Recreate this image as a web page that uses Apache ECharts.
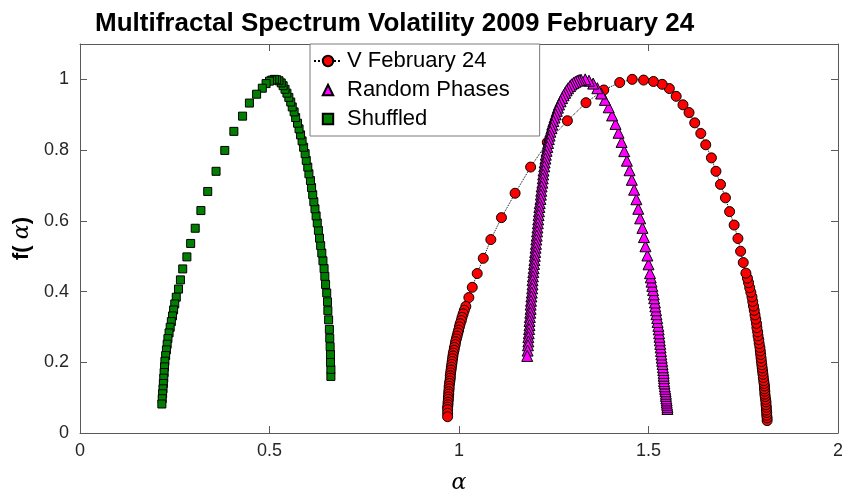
<!DOCTYPE html>
<html><head><meta charset="utf-8">
<script src="https://cdn.jsdelivr.net/npm/echarts@6/dist/echarts.min.js"></script>
<style>html,body{margin:0;padding:0;background:#fff}#c{width:842px;height:489px}</style>
</head><body><div id="c"></div>
<script>
const seriesNames = ['V February 24', 'Random Phases', 'Shuffled'];

const vAlpha = [1.813,1.813,1.812,1.812,1.811,1.811,1.810,1.810,1.809,1.808,1.807,1.807,1.806,1.806,1.805,1.804,1.803,1.802,1.801,1.800,1.799,1.798,1.797,1.796,1.795,1.794,1.792,1.791,1.789,1.788,1.786,1.785,1.783,1.781,1.779,1.777,1.775,1.773,1.770,1.767,1.764,1.761,1.757,
  1.750,1.743,1.736,1.726,1.714,1.703,1.690,1.678,1.666,1.651,1.638,1.622,1.607,1.591,1.573,1.555,1.536,1.513,1.487,1.457,1.424,1.382,1.335,1.286,1.233,1.189,1.148,1.112,1.084,1.064,1.048,1.035,1.026,1.018,
  1.014,1.011,1.008,1.006,1.003,1.001,0.999,0.997,0.995,0.993,0.991,0.990,0.988,0.987,0.985,0.984,0.983,0.982,0.981,0.980,0.979,0.978,0.977,0.977,0.976,0.975,0.974,0.974,0.973,0.973,0.972,0.972,0.971,0.971,0.970,0.970,0.970,0.970];
const vF = [0.035,0.043,0.050,0.058,0.065,0.073,0.080,0.088,0.095,0.103,0.110,0.118,0.125,0.133,0.140,0.148,0.157,0.166,0.175,0.184,0.193,0.202,0.212,0.222,0.232,0.242,0.253,0.264,0.275,0.286,0.298,0.310,0.322,0.334,0.347,0.359,0.372,0.385,0.398,0.411,0.425,0.438,0.452,
  0.482,0.514,0.550,0.588,0.626,0.665,0.703,0.740,0.778,0.815,0.847,0.877,0.906,0.928,0.952,0.974,0.986,0.994,0.998,1.000,0.991,0.970,0.934,0.883,0.822,0.752,0.678,0.609,0.547,0.494,0.451,0.412,0.383,0.358,
  0.347,0.337,0.327,0.318,0.309,0.300,0.291,0.283,0.274,0.266,0.258,0.250,0.242,0.234,0.226,0.218,0.210,0.202,0.194,0.186,0.178,0.170,0.162,0.155,0.147,0.140,0.132,0.125,0.117,0.110,0.102,0.095,0.087,0.080,0.073,0.066,0.056,0.046];

const rpAlpha = [1.550,1.550,1.549,1.548,1.548,1.547,1.546,1.546,1.545,1.544,1.543,1.542,1.541,1.541,1.540,1.540,1.539,1.538,1.537,1.536,1.535,1.534,1.533,1.532,1.531,1.530,1.529,1.528,1.527,1.526,1.524,1.523,1.521,1.520,1.518,1.517,1.515,1.514,1.512,1.510,1.508,1.506,1.504,
  1.500,1.497,1.492,1.488,1.484,1.478,1.473,1.468,1.462,1.456,1.450,1.443,1.436,1.429,1.421,1.413,1.404,1.395,1.385,1.375,1.365,1.354,1.343,1.333,
  1.322,1.317,1.312,1.307,1.302,1.297,1.293,1.288,1.284,1.280,1.276,1.272,1.268,1.264,1.261,1.258,1.255,1.252,1.249,1.246,1.244,1.241,1.239,1.237,1.235,1.233,1.231,1.229,1.228,1.226,
  1.225,1.223,1.222,1.221,1.220,1.218,1.217,1.216,1.215,1.213,1.212,1.211,1.210,1.209,1.208,1.207,1.206,1.205,1.204,1.203,1.202,1.201,1.200,1.199,1.198,1.197,1.196,1.195,1.194,1.194,
  1.193,1.192,1.191,1.190,1.189,1.189,1.188,1.187,1.186,1.186,1.185,1.184,1.183,1.183,1.182,1.181,1.180];
const rpF = [0.068,0.074,0.080,0.086,0.092,0.098,0.105,0.111,0.118,0.125,0.132,0.140,0.147,0.155,0.162,0.170,0.178,0.186,0.195,0.204,0.213,0.222,0.232,0.242,0.252,0.262,0.272,0.282,0.293,0.303,0.314,0.325,0.336,0.347,0.358,0.369,0.381,0.392,0.404,0.416,0.428,0.440,0.452,
  0.477,0.502,0.528,0.554,0.580,0.607,0.634,0.661,0.688,0.716,0.743,0.770,0.797,0.823,0.849,0.874,0.898,0.921,0.942,0.960,0.975,0.988,0.996,1.000,
  0.999,0.998,0.996,0.993,0.990,0.986,0.981,0.975,0.969,0.962,0.955,0.947,0.938,0.929,0.920,0.911,0.901,0.892,0.882,0.872,0.862,0.852,0.841,0.831,0.820,0.809,0.798,0.787,0.776,0.765,
  0.754,0.742,0.731,0.720,0.708,0.697,0.685,0.674,0.662,0.650,0.639,0.627,0.616,0.604,0.593,0.581,0.570,0.558,0.547,0.535,0.524,0.512,0.501,0.489,0.478,0.466,0.455,0.443,0.432,0.420,
  0.409,0.397,0.386,0.374,0.363,0.351,0.340,0.328,0.317,0.305,0.294,0.282,0.271,0.259,0.248,0.233,0.218];

const shAlpha = [0.662,0.662,0.661,0.661,0.660,0.659,0.658,0.656,0.654,0.653,0.651,0.648,0.646,0.644,0.641,0.638,0.635,0.632,0.629,0.626,0.623,0.620,0.617,0.614,0.611,0.608,0.604,0.601,0.597,0.594,0.590,0.586,0.582,0.578,0.574,0.569,0.565,0.560,0.556,0.551,0.546,0.541,0.536,0.531,0.525,0.519,0.513,
  0.506,0.500,0.491,0.481,0.466,0.447,0.429,0.406,0.382,0.359,0.337,0.319,0.304,0.292,0.282,0.271,0.265,0.260,0.254,0.250,0.247,0.244,0.241,0.238,0.235,0.232,0.230,0.228,0.226,0.224,0.223,0.222,0.221,0.220,0.219,0.218,0.217,0.216];
const shF = [0.160,0.180,0.200,0.222,0.244,0.268,0.293,0.320,0.346,0.371,0.396,0.420,0.443,0.465,0.487,0.509,0.530,0.551,0.573,0.594,0.614,0.634,0.654,0.674,0.694,0.714,0.733,0.752,0.771,0.790,0.808,0.826,0.843,0.860,0.876,0.892,0.908,0.922,0.936,0.949,0.961,0.972,0.982,0.990,0.996,0.999,1.000,
  0.998,0.995,0.988,0.975,0.958,0.933,0.896,0.853,0.799,0.740,0.683,0.629,0.579,0.536,0.498,0.464,0.433,0.407,0.384,0.365,0.348,0.331,0.315,0.299,0.283,0.267,0.251,0.235,0.219,0.203,0.187,0.171,0.155,0.140,0.125,0.111,0.097,0.082];

const xTicks = [0, 0.5, 1, 1.5, 2];
const yTicks = [0, 0.2, 0.4, 0.6, 0.8, 1];

function pairs(a, b) { return a.map((x, i) => [x, b[i]]); }

const font = '"Liberation Sans", Arial, Helvetica, sans-serif';
const serif = '"DejaVu Serif", "Liberation Serif", serif';
const axCol = '#5a5a5a';
const lblCol = '#262626';

const chart = echarts.init(document.getElementById('c'), null, { renderer: 'canvas' });

function xAx(pos, show) {
  return {
    type: 'value', min: xTicks[0], max: xTicks[xTicks.length - 1], interval: 0.5, position: pos,
    axisLine: { show: true, onZero: false, lineStyle: { color: axCol, width: 1 } },
    axisTick: { show: true, inside: true, length: 7, lineStyle: { color: axCol } },
    axisLabel: { show: show, fontSize: 18, color: lblCol, fontFamily: font, margin: 9 },
    splitLine: { show: false }
  };
}
function yAx(pos, show) {
  return {
    type: 'value', min: 0, max: 1.1, interval: 0.2, position: pos,
    axisLine: { show: true, onZero: false, lineStyle: { color: axCol, width: 1 } },
    axisTick: { show: true, inside: true, length: 7, lineStyle: { color: axCol } },
    axisLabel: { show: show, fontSize: 18, color: lblCol, fontFamily: font, margin: 11, showMaxLabel: false,
      formatter: v => (yTicks.some(t => Math.abs(t - v) < 1e-9) ? String(+v.toFixed(1)) : '') },
    splitLine: { show: false }
  };
}

const xa0 = xAx('bottom', true);
xa0.name = 'α'; xa0.nameLocation = 'middle'; xa0.nameGap = 39;
xa0.nameTextStyle = { fontFamily: serif, fontStyle: 'italic', fontSize: 22, color: '#000' };
const ya0 = yAx('left', true);
ya0.name = '{b|f( }{a|α}{b|)}'; ya0.nameLocation = 'middle'; ya0.nameGap = 43;
ya0.nameTextStyle = { rich: {
  b: { fontFamily: font, fontWeight: 'bold', fontSize: 22, color: '#000' },
  a: { fontFamily: serif, fontStyle: 'italic', fontSize: 22, color: '#000' } } };

const noLine = { color: '#000', width: 0, opacity: 0 };

const option = {
  animation: false,
  backgroundColor: '#fff',
  title: {
    text: 'Multifractal Spectrum Volatility 2009 February 24', left: 90, top: 6,
    textStyle: { fontFamily: font, fontWeight: 'bold', fontSize: 26, color: '#000' }
  },
  legend: {
    orient: 'vertical', left: 310, top: 44, padding: [6, 30, 6, 3], itemGap: 7,
    itemWidth: 28, itemHeight: 13,
    backgroundColor: '#fff', borderColor: '#7a7a7a', borderWidth: 1, borderRadius: 0,
    textStyle: { fontSize: 22, color: '#000', fontFamily: font },
    data: seriesNames
  },
  grid: { left: 80, right: 4, top: 44, bottom: 56, containLabel: false, outerBoundsMode: 'none' },
  xAxis: [xa0, xAx('top', false)],
  yAxis: [ya0, yAx('right', false)],
  series: [
    {
      name: seriesNames[0], type: 'line', data: pairs(vAlpha, vF),
      symbol: 'circle', symbolSize: 10, showSymbol: true, showAllSymbol: true,
      lineStyle: { color: '#000', width: 1, type: 'dotted' },
      itemStyle: { color: '#ff0000', borderColor: '#000', borderWidth: 1 },
      emphasis: { disabled: true }
    },
    {
      name: seriesNames[1], type: 'line', data: pairs(rpAlpha, rpF),
      symbol: 'triangle', symbolSize: 11, showSymbol: true, showAllSymbol: true,
      lineStyle: noLine,
      itemStyle: { color: '#ff00ff', borderColor: '#000', borderWidth: 1 },
      emphasis: { disabled: true }
    },
    {
      name: seriesNames[2], type: 'line', data: pairs(shAlpha, shF),
      symbol: 'rect', symbolSize: 8, showSymbol: true, showAllSymbol: true,
      lineStyle: noLine,
      itemStyle: { color: '#007f00', borderColor: '#000', borderWidth: 1 },
      emphasis: { disabled: true }
    }
  ]
};
chart.setOption(option);
</script>
</body></html>
